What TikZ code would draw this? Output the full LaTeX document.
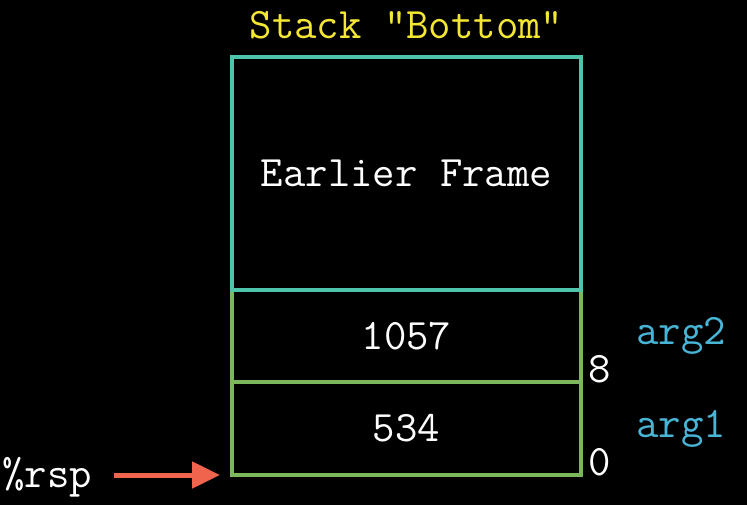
\documentclass[tikz,border=0pt]{standalone}
\usetikzlibrary{positioning,arrows.meta}

\definecolor{frameteal}{RGB}{78,196,170}
\definecolor{argsgreen}{RGB}{124,183,94}
\definecolor{titleyellow}{RGB}{244,230,52}
\definecolor{argblue}{RGB}{72,180,214}
\definecolor{ptrred}{RGB}{240,100,78}

\tikzset{
  cell/.style={draw=argsgreen,line width=4pt,minimum width=349pt,inner sep=0pt,outer sep=0pt,text=white},
  offset/.style={anchor=base west,inner sep=0pt,text=white},
  arglabel/.style={inner sep=0pt,text=argblue},
  ptr/.style={-{Triangle[length=28pt,width=26pt]},ptrred,line width=5pt}
}

\begin{document}
\begin{tikzpicture}[x=1pt,y=-1pt,font=\ttfamily\fontsize{43.5}{48}\selectfont]

% Background
\fill[black] (0,0) rectangle (747,505);
\useasboundingbox (0,0) rectangle (747,505);

% Stack cells, bottom up
\node[cell,minimum height=93pt] (arg1) at (406.5,428.5) {534};
\node[cell,minimum height=92pt,above=0pt of arg1] (arg2) {1057};
\node[cell,draw=frameteal,minimum height=233pt,above=0pt of arg2] (earlier) {Earlier Frame};

% Title
\node[anchor=base,inner sep=0pt,text=titleyellow] (stacktitle) at ([yshift=18.5pt]earlier.north) {Stack "Bottom"};

% Offsets and argument labels
\node[offset] (off8) at ([xshift=7pt]arg1.north east) {8};
\node[offset] (off0) at ([xshift=7pt]arg1.south east) {0};
\node[arglabel,right=55pt of arg2] (arg2lbl) {arg2};
\node[arglabel,right=55pt of arg1] (arg1lbl) {arg1};

% Stack pointer
\node[anchor=base west,inner sep=0pt,text=white] (rsp) at (2,487) {\%rsp};
\coordinate (rsptip) at ([xshift=-12pt]arg1.south west);
\draw[ptr] (rsptip -| rsp.east) ++(22,0) -- (rsptip);

\end{tikzpicture}
\end{document}
